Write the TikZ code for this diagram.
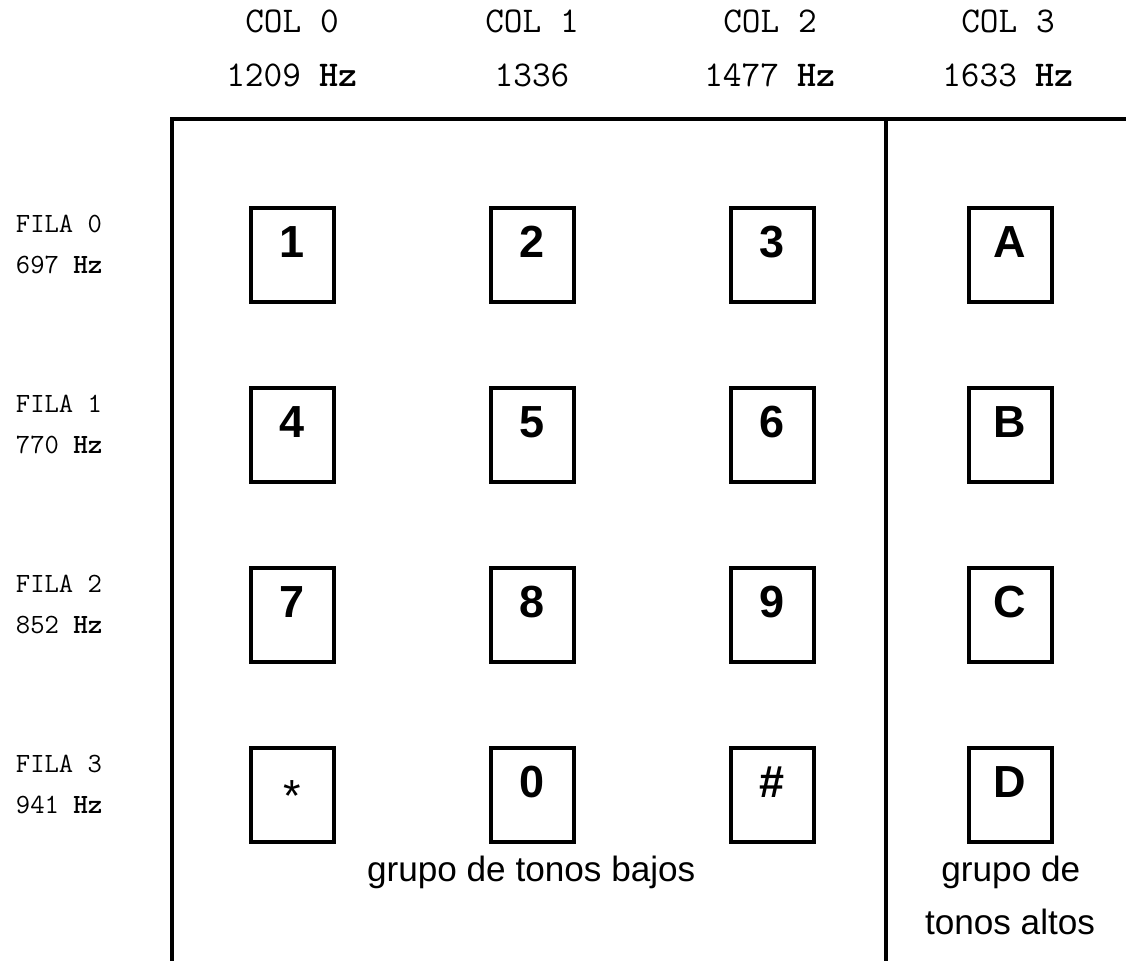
\documentclass[tikz,border=0pt]{standalone}
\usepackage{fontspec}
\setmainfont{Liberation Sans}
\usepackage{tikz}

\begin{document}
\begin{tikzpicture}[
		key/.style={
			draw, line width=0.1cm, rectangle,
			minimum width=2.075cm, inner sep=0pt,
			text height=1.25cm, text depth=1.1cm,
			font=\fontsize{32}{36}\selectfont\bfseries
		},
		colhead/.style={anchor=base, font=\ttfamily\fontsize{25.8}{28}\selectfont},
		rowhead/.style={anchor=base west, font=\ttfamily\fontsize{19.8}{22}\selectfont},
		grp/.style={anchor=base, font=\fontsize{25}{28}\selectfont},
		frame/.style={line width=0.1cm},
		]
		
		\useasboundingbox (0,0) rectangle (28.15,24.025);
		
		% marco: grupo bajo y grupo alto
		\draw[frame] (4.3,0) -- (4.3,21.05) -- (28.15,21.05);
		\draw[frame] (22.15,21.05) -- (22.15,0);
		
		% columnas
		\node[colhead] (c0) at (7.3, 23.2) {COL 0};
		\node[colhead] (c1) at (13.3, 23.2) {COL 1};
		\node[colhead] (c2) at (19.25, 23.2) {COL 2};
		\node[colhead] (c3) at (25.2, 23.2) {COL 3};
		\node[colhead] (f0) at (7.3, 21.85) {1209 \textbf{Hz}};
		\node[colhead] (f1) at (13.3, 21.85) {1336};
		\node[colhead] (f2) at (19.25, 21.85) {1477 \textbf{Hz}};
		\node[colhead] (f3) at (25.2, 21.85) {1633 \textbf{Hz}};
		
		% filas
		\node[rowhead] (r0) at (0.275, 18.2)  {FILA 0};
		\node[rowhead] (h0) at (0.275, 17.175) {697 \textbf{Hz}};
		\node[rowhead] (r1) at (0.275, 13.7)  {FILA 1};
		\node[rowhead] (h1) at (0.275, 12.675) {770 \textbf{Hz}};
		\node[rowhead] (r2) at (0.275, 9.2)   {FILA 2};
		\node[rowhead] (h2) at (0.275, 8.175)  {852 \textbf{Hz}};
		\node[rowhead] (r3) at (0.275, 4.7)   {FILA 3};
		\node[rowhead] (h3) at (0.275, 3.675)  {941 \textbf{Hz}};
		
		% teclas
		\node[key] (k1) at (7.3, 17.65)  {1};
		\node[key] (k2) at (13.3, 17.65) {2};
		\node[key] (k3) at (19.3, 17.65) {3};
		\node[key] (kA) at (25.25, 17.65) {A};
		
		\node[key] (k4) at (7.3, 13.15)  {4};
		\node[key] (k5) at (13.3, 13.15) {5};
		\node[key] (k6) at (19.3, 13.15) {6};
		\node[key] (kB) at (25.25, 13.15) {B};
		
		\node[key] (k7) at (7.3, 8.65)  {7};
		\node[key] (k8) at (13.3, 8.65) {8};
		\node[key] (k9) at (19.3, 8.65) {9};
		\node[key] (kC) at (25.25, 8.65) {C};
		
		\node[key] (kstar) at (7.3, 4.15)  {\mdseries\raisebox{-0.35cm}{*}};
		\node[key] (k0)    at (13.3, 4.15) {0};
		\node[key] (khash) at (19.3, 4.15) {\#};
		\node[key] (kD)    at (25.25, 4.15) {D};
		
		\node[grp] (bajos) at (13.28, 1.975) {grupo de tonos bajos};
		\node[grp] (altos1) at (25.27, 1.975) {grupo de};
		\node[grp] (altos2) at (25.25, 0.65) {tonos altos};
		
	\end{tikzpicture}
\end{document}
